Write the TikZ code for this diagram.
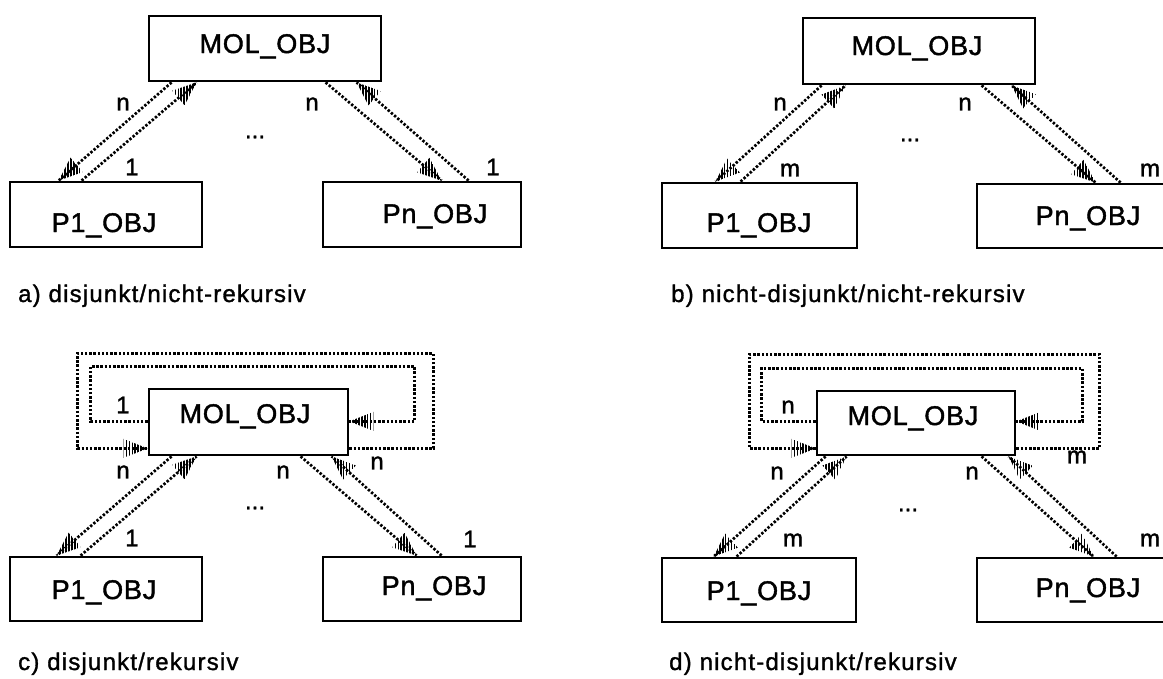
\documentclass[tikz,border=0pt]{standalone}
\usepackage{fontspec}
\setmainfont{Liberation Sans}[FakeBold=1.2]
\newfontfamily\objfont[LetterSpace=3,FakeBold=1.5]{Liberation Sans}
\newfontfamily\capfont[LetterSpace=5,FakeBold=1.3]{Liberation Sans}
\newfontfamily\cardfont[FakeBold=1.5]{Liberation Sans}
\usetikzlibrary{calc}

% hatched arrow head: #1 = tip, #2 = a point further back on the line
\newcommand\hatchtip[2]{%
  \path #1 coordinate (ht-tip) #2 coordinate (ht-from);
  \coordinate (ht-base) at ($(ht-tip)!24pt!(ht-from)$);
  \begin{scope}
    \clip (ht-tip) -- ($(ht-base)!9.5pt!90:(ht-tip)$) -- ($(ht-base)!9.5pt!-90:(ht-tip)$) -- cycle;
    \foreach \k in {-12,...,12}
      \draw[hatch] ([xshift=\k*2.9pt]ht-base) ++(0,-34) -- ++(0,68);
  \end{scope}}
% dotted reference line with a hatched head at its end
\newcommand\relarrow[2]{\draw[rel] #1 -- #2; \hatchtip{#2}{#1}}

\begin{document}
\begin{tikzpicture}[x=1pt,y=-1pt,
  objbox/.style={draw, line width=2.8pt, inner sep=0pt},
  objtext/.style={font=\objfont\fontsize{27}{27}\selectfont, inner sep=0pt, anchor=base},
  card/.style={font=\cardfont\fontsize{24}{24}\selectfont, inner sep=0pt},
  caption/.style={font=\capfont\fontsize{24}{24}\selectfont, anchor=base west, inner sep=0pt},
  rel/.style={line width=2.7pt, dash pattern=on 2.4pt off 1.8pt},
  selfloop/.style={line width=2.9pt, dash pattern=on 2.5pt off 1.7pt},
  hatch/.style={line width=1.6pt},
]
\useasboundingbox (0,0) rectangle (1163,678);

% ---------- a) disjunkt/nicht-rekursiv ----------
\node[objbox, minimum width=232pt, minimum height=65pt] (mola) at (265,48.5) {};
\node[objbox, minimum width=192pt, minimum height=65pt] (p1a) at (106,214.5) {};
\node[objbox, minimum width=198pt, minimum height=65pt] (pna) at (422,214.5) {};
\node[objtext] (mola-t) at (265,53) {MOL\_OBJ};
\node[objtext] (p1a-t) at (104,232) {P1\_OBJ};
\node[objtext] (pna-t) at (435,223) {Pn\_OBJ};

\relarrow{([xshift=24pt]mola.south west)}{([xshift=50pt]p1a.north west)}
\relarrow{([xshift=73pt]p1a.north west)}{([xshift=49pt]mola.south west)}
\relarrow{([xshift=178pt]mola.south west)}{([xshift=120pt]pna.north west)}
\relarrow{([xshift=147pt]pna.north west)}{([xshift=209pt]mola.south west)}

\node[card] (a-n1) at (123,104) {n};
\node[card] (a-c1) at (132,167) {1};
\node[card] (a-n2) at (312,104) {n};
\node[card] (a-c2) at (493,167) {1};
\node[card] (a-dots) at (255,137) {...};
\node[caption] (cap-a) at (18,302) {a) disjunkt/nicht-rekursiv};

% ---------- b) nicht-disjunkt/nicht-rekursiv ----------
\node[objbox, minimum width=232pt, minimum height=66pt] (molb) at (919,51) {};
\node[objbox, minimum width=195pt, minimum height=65pt] (p1b) at (759.5,215.5) {};
\node[objbox, minimum width=218pt, minimum height=64pt] (pnb) at (1086,216) {};
\node[objtext] (molb-t) at (917,55) {MOL\_OBJ};
\node[objtext] (p1b-t) at (759,232) {P1\_OBJ};
\node[objtext] (pnb-t) at (1088,225) {Pn\_OBJ};

\relarrow{([xshift=20pt]molb.south west)}{([xshift=55pt]p1b.north west)}
\relarrow{([xshift=80pt]p1b.north west)}{([xshift=44pt]molb.south west)}
\relarrow{([xshift=180pt]molb.south west)}{([xshift=120pt]pnb.north west)}
\relarrow{([xshift=145pt]pnb.north west)}{([xshift=210pt]molb.south west)}

\node[card] (b-n1) at (780,104) {n};
\node[card] (b-m1) at (790,170) {m};
\node[card] (b-n2) at (965,104) {n};
\node[card] (b-m2) at (1150,170) {m};
\node[card] (b-dots) at (910,140) {...};
\node[caption] (cap-b) at (671,302) {b) nicht-disjunkt/nicht-rekursiv};

% ---------- c) disjunkt/rekursiv ----------
\node[objbox, minimum width=199pt, minimum height=66pt] (molc) at (248.5,422) {};
\node[objbox, minimum width=192pt, minimum height=64pt] (p1c) at (106,589) {};
\node[objbox, minimum width=198pt, minimum height=64pt] (pnc) at (422,589) {};
\node[objtext] (molc-t) at (245,423) {MOL\_OBJ};
\node[objtext] (p1c-t) at (104,599) {P1\_OBJ};
\node[objtext] (pnc-t) at (434,595) {Pn\_OBJ};

\relarrow{([xshift=24pt]molc.south west)}{([xshift=48pt]p1c.north west)}
\relarrow{([xshift=72pt]p1c.north west)}{([xshift=49pt]molc.south west)}
\relarrow{([xshift=153pt]molc.south west)}{([xshift=95pt]pnc.north west)}
\relarrow{([xshift=120pt]pnc.north west)}{([xshift=184pt]molc.south west)}

% recursive references
\draw[selfloop] ([yshift=8pt]molc.south east) -- ++(84,0) -- ++(0,-95) -- ++(-356,0) -- ++(0,95)
  -- ([yshift=8pt]molc.south west);
\hatchtip{([yshift=8pt]molc.south west)}{([xshift=-40pt,yshift=8pt]molc.south west)}
\draw[selfloop] ([yshift=35pt]molc.south west) -- ++(-57,0) -- ++(0,-55) -- ++(324,0) -- ++(0,55)
  -- ([yshift=35pt]molc.south east);
\hatchtip{([yshift=35pt]molc.south east)}{([xshift=40pt,yshift=35pt]molc.south east)}

\node[card] (c-r1) at (123,405) {1};
\node[card] (c-r2) at (377,463) {n};
\node[card] (c-n1) at (123,472) {n};
\node[card] (c-c1) at (132,538) {1};
\node[card] (c-n2) at (283,472) {n};
\node[card] (c-c2) at (470,539) {1};
\node[card] (c-dots) at (255,508) {...};
\node[caption] (cap-c) at (18,670) {c) disjunkt/rekursiv};

% ---------- d) nicht-disjunkt/rekursiv ----------
\node[objbox, minimum width=198pt, minimum height=64pt] (mold) at (916,423) {};
\node[objbox, minimum width=194pt, minimum height=64pt] (p1d) at (759,590) {};
\node[objbox, minimum width=218pt, minimum height=64pt] (pnd) at (1086,590) {};
\node[objtext] (mold-t) at (913,425) {MOL\_OBJ};
\node[objtext] (p1d-t) at (759,600) {P1\_OBJ};
\node[objtext] (pnd-t) at (1088,597) {Pn\_OBJ};

\relarrow{([xshift=10pt]mold.south west)}{([xshift=53pt]p1d.north west)}
\relarrow{([xshift=76pt]p1d.north west)}{([xshift=31pt]mold.south west)}
\relarrow{([xshift=166pt]mold.south west)}{([xshift=118pt]pnd.north west)}
\relarrow{([xshift=141pt]pnd.north west)}{([xshift=193pt]mold.south west)}

\draw[selfloop] ([yshift=8pt]mold.south east) -- ++(83,0) -- ++(0,-94) -- ++(-350,0) -- ++(0,94)
  -- ([yshift=8pt]mold.south west);
\hatchtip{([yshift=8pt]mold.south west)}{([xshift=-40pt,yshift=8pt]mold.south west)}
\draw[selfloop] ([yshift=35pt]mold.south west) -- ++(-54,0) -- ++(0,-53) -- ++(321,0) -- ++(0,53)
  -- ([yshift=35pt]mold.south east);
\hatchtip{([yshift=35pt]mold.south east)}{([xshift=40pt,yshift=35pt]mold.south east)}

\node[card] (d-r1) at (788,407) {n};
\node[card] (d-r2) at (1077,457) {m};
\node[card] (d-n1) at (777,473) {n};
\node[card] (d-m1) at (793,540) {m};
\node[card] (d-n2) at (972,473) {n};
\node[card] (d-m2) at (1150,540) {m};
\node[card] (d-dots) at (908,510) {...};
\node[caption] (cap-d) at (669,670) {d) nicht-disjunkt/rekursiv};
\end{tikzpicture}
\end{document}
